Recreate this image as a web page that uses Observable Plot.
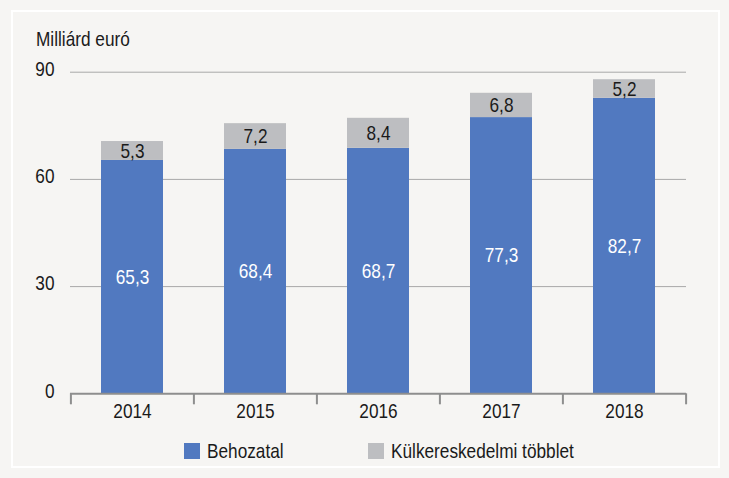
<!DOCTYPE html>
<html>
<head>
<meta charset="utf-8">
<script src="https://cdn.jsdelivr.net/npm/d3@7"></script>
<script src="https://cdn.jsdelivr.net/npm/@observablehq/plot@0.6"></script>
<style>
  html, body { margin: 0; padding: 0; }
  body { background: #f6f5f3; width: 729px; height: 478px; overflow: hidden; position: relative;
         font-family: "Liberation Sans", Arial, sans-serif; color: #1a1a1a; }
  #frame { position: absolute; left: 11px; top: 10px; width: 705px; height: 454px; border: 2px solid #ffffff; }
  #chart { position: absolute; left: 0; top: 0; }
  #title { position: absolute; left: 36px; top: 27px; font-size: 21px; line-height: 24px; white-space: nowrap;
           transform: scaleX(0.82); transform-origin: 0 0; }
  .leg { position: absolute; top: 439px; font-size: 21px; line-height: 24px; white-space: nowrap;
         transform: scaleX(0.82); transform-origin: 0 0; }
  .sw { position: absolute; width: 16px; height: 16px; top: 443px; }
</style>
</head>
<body>
<div id="frame"></div>
<div id="chart"></div>
<div id="title">Milliárd euró</div>
<div class="sw" style="left:184px;background:#5179c0"></div>
<div class="leg" style="left:207px">Behozatal</div>
<div class="sw" style="left:368px;background:#bdbec1"></div>
<div class="leg" style="left:391px">Külkereskedelmi többlet</div>
<script>
const years = ["2014", "2015", "2016", "2017", "2018"];
const behozatal = [65.3, 68.4, 68.7, 77.3, 82.7];
const tobblet = [5.3, 7.2, 8.4, 6.8, 5.2];
const seriesNames = ["Behozatal", "Külkereskedelmi többlet"];
const seriesColors = ["#5179c0", "#bdbec1"];
const yTicks = [0, 30, 60, 90];

const rows = [];
years.forEach((y, i) => {
  rows.push({year: y, series: seriesNames[0], value: behozatal[i]});
  rows.push({year: y, series: seriesNames[1], value: tobblet[i]});
});

const W = 729, H = 430, mL = 70, mR = 43;
const step = (W - mL - mR) / years.length;
const fmt = v => v.toFixed(1).replace(".", ",");

const chart = Plot.plot({
  width: W,
  height: H,
  marginLeft: mL,
  marginRight: mR,
  marginTop: 71.7,
  marginBottom: 36.7,
  style: {background: "transparent", fontFamily: '"Liberation Sans", Arial, sans-serif', fontSize: "21px", color: "#1a1a1a"},
  x: {domain: years, paddingInner: 0.5, paddingOuter: 0.25, label: null},
  y: {domain: [0, 90], label: null},
  color: {domain: seriesNames, range: seriesColors},
  marks: [
    Plot.ruleY(yTicks.filter(d => d > 0), {stroke: "#a8a8a8", strokeWidth: 1}),
    Plot.barY(rows, Plot.stackY({x: "year", y: "value", z: "series", fill: "series", order: seriesNames})),
    Plot.ruleY([0], {stroke: "#8e8e8e", strokeWidth: 2}),
    Plot.ruleX(years, {x: d => d, dx: -step / 2, y1: 0, y2: 0, insetBottom: -11, stroke: "#8e8e8e", strokeWidth: 2}),
    Plot.ruleX(years.slice(-1), {x: d => d, dx: step / 2, y1: 0, y2: 0, insetBottom: -11, stroke: "#8e8e8e", strokeWidth: 2}),
    Plot.text(rows, Plot.stackY({x: "year", y: "value", z: "series", order: seriesNames,
      text: d => fmt(d.value),
      fill: d => d.series === seriesNames[0] ? "#ffffff" : "#1a1a1a",
      fontSize: 21})),
    Plot.axisY(yTicks, {tickSize: 0, tickPadding: 16, dy: -3, fontSize: 21, fill: "#1a1a1a"}),
    Plot.axisX({tickSize: 0, tickPadding: 9, fontSize: 21, fill: "#1a1a1a"})
  ]
});
// narrow the glyphs (reference uses a condensed face)
chart.querySelectorAll("text").forEach(t => {
  const tr = t.getAttribute("transform");
  if (tr) {
    t.setAttribute("transform", tr + " scale(0.82,1)");
  } else {
    const x = +(t.getAttribute("x") || 0), y = +(t.getAttribute("y") || 0);
    t.removeAttribute("x"); t.removeAttribute("y");
    t.setAttribute("transform", `translate(${x},${y}) scale(0.82,1)`);
  }
});
document.getElementById("chart").appendChild(chart);
</script>
</body>
</html>
